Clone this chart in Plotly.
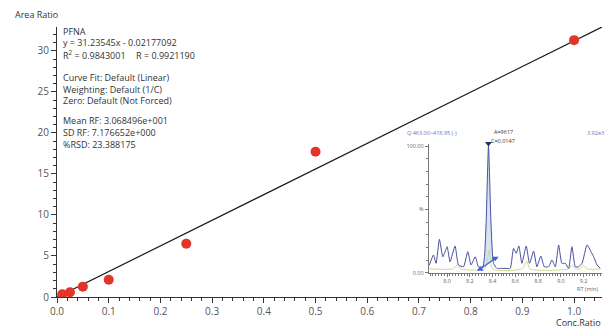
import plotly.graph_objects as go

# ---------------- calibration data ----------------
conc = [0.01, 0.025, 0.05, 0.1, 0.25, 0.5, 1.0]
area_ratio = [0.33, 0.57, 1.26, 2.1, 6.5, 17.7, 31.3]
slope = 31.23545
intercept = -0.02177092
fit_x = [0.0, 1.06]
x_tick_vals = [0.0, 0.1, 0.2, 0.3, 0.4, 0.5, 0.6, 0.7, 0.8, 0.9, 1.0]
y_tick_vals = [0, 5, 10, 15, 20, 25, 30]

info_lines = [
    ("PFNA", 31.5),
    ("y = 31.23545x - 0.02177092", 43),
    ("R<sup>2</sup> = 0.9843001", 55),
    ("Curve Fit: Default (Linear)", 77),
    ("Weighting: Default (1/C)", 89),
    ("Zero: Default (Not Forced)", 100.5),
    ("Mean RF: 3.068496e+001", 121),
    ("SD RF: 7.176652e+000", 132.5),
    ("%RSD: 23.388175", 144),
]
r_text = "R = 0.9921190"

# ---------------- chromatogram inset data ----------------
rt_blue = [7.844, 7.880, 7.903, 7.932, 7.962, 7.977, 8.000, 8.026, 8.070, 8.100,
           8.144, 8.182, 8.211, 8.247, 8.276, 8.314, 8.330, 8.344, 8.364, 8.385,
           8.408, 8.438, 8.467, 8.520, 8.555, 8.584, 8.608, 8.631, 8.658, 8.696,
           8.725, 8.761, 8.790, 8.825, 8.855, 8.893, 8.922, 8.952, 8.981, 9.010,
           9.040, 9.069, 9.098, 9.128, 9.157, 9.187, 9.231, 9.266, 9.289, 9.319,
           9.348]
pct_blue = [6.1, 14.0, 7.4, 26.3, 12.6, 15.3, 20.5, 8.7, 21.1, 6.1,
            4.7, 16.6, 6.1, 12.6, 4.7, 4.7, 14.0, 41.6, 100.0, 41.6,
            7.4, 3.4, 3.4, 3.4, 3.4, 19.2, 15.3, 21.1, 7.4, 21.1,
            7.4, 17.1, 4.7, 13.2, 4.7, 4.7, 10.0, 4.7, 21.9, 7.4,
            7.4, 3.4, 20.5, 4.7, 4.7, 7.4, 21.9, 16.6, 12.6, 6.1,
            3.4]
rt_green = [7.844, 8.05, 8.09, 8.12, 8.33, 8.37, 8.40, 8.66, 8.70, 8.73,
            9.07, 9.10, 9.13, 9.17, 9.20, 9.23, 9.348]
pct_green = [3.0, 3.0, 6.0, 3.0, 3.0, 18.0, 3.0, 3.0, 9.0, 3.0,
             3.0, 6.0, 3.0, 3.0, 6.0, 3.0, 3.0]
baseline_rt = [8.291, 8.423]
baseline_pct = [2.7, 11.4]
apex_rt = [8.364]
apex_pct = [102.0]
rt_tick_vals = [8.0, 8.2, 8.4, 8.6, 8.8, 9.0, 9.2]
pct_tick_vals = [0, 50, 100]
pct_tick_text = ["0.00", "%", "100.00"]

# ---------------- layout helpers (window pixel -> paper) ----------------
OFF = 8  # page body margin
W, H = 605, 321
L, R_, T, B = 49, 11, 19, 32
PW, PH = W - L - R_, H - T - B


def px(x):
    return (x - OFF - L) / PW


def py(y):
    return (H - B - (y - OFF)) / PH


FONT = "Open Sans"
TXT = "#333333"
TICK = "#555555"

fig = go.Figure()

# fit line
fit_y = [slope * v + intercept for v in fit_x]
fig.add_trace(go.Scatter(x=fit_x, y=fit_y, mode="lines",
                         line=dict(color="#1a1a1a", width=1.2),
                         hoverinfo="skip", showlegend=False,
                         xaxis="x", yaxis="y"))
# points
fig.add_trace(go.Scatter(x=conc, y=area_ratio, mode="markers",
                         marker=dict(color="#e1352b", size=10),
                         showlegend=False, xaxis="x", yaxis="y"))

# inset: peak fill polygon built from trace data
inner = [(r, p) for r, p in zip(rt_blue, pct_blue) if baseline_rt[0] < r < baseline_rt[1]]
fill_rt = [baseline_rt[0]] + [r for r, _ in inner] + [baseline_rt[1], baseline_rt[0]]
fill_pct = [baseline_pct[0]] + [p for _, p in inner] + [baseline_pct[1], baseline_pct[0]]
fig.add_trace(go.Scatter(x=fill_rt, y=fill_pct, mode="lines", fill="toself",
                         fillcolor="rgba(160,195,230,0.45)", line=dict(width=0),
                         hoverinfo="skip", showlegend=False, xaxis="x2", yaxis="y2"))
fig.add_trace(go.Scatter(x=rt_green, y=pct_green, mode="lines",
                         line=dict(color="#cfd98e", width=1, shape="spline", smoothing=0.6),
                         showlegend=False, xaxis="x2", yaxis="y2"))
fig.add_trace(go.Scatter(x=rt_blue, y=pct_blue, mode="lines",
                         line=dict(color="#4a4f9c", width=1, shape="spline", smoothing=0.5),
                         showlegend=False, xaxis="x2", yaxis="y2"))
fig.add_trace(go.Scatter(x=baseline_rt, y=baseline_pct, mode="lines+markers",
                         line=dict(color="#3d5fe0", width=1.3),
                         marker=dict(symbol=["triangle-up", "triangle-down"], size=6,
                                     color="#3d5fe0"),
                         showlegend=False, xaxis="x2", yaxis="y2"))
fig.add_trace(go.Scatter(x=apex_rt, y=apex_pct, mode="markers",
                         marker=dict(symbol="triangle-down", size=6, color="#1f2f6a"),
                         showlegend=False, xaxis="x2", yaxis="y2", cliponaxis=False))

axis_common = dict(showgrid=False, zeroline=False, showline=True,
                   linecolor="#333333", linewidth=1, ticks="outside",
                   tickcolor="#333333", ticklen=5, tickwidth=1,
                   tickfont=dict(family=FONT, size=10, color=TICK))

inset_axis = dict(showgrid=False, zeroline=False, showline=True,
                  linecolor="#777777", linewidth=1, ticks="outside",
                  tickcolor="#777777", ticklen=3, tickwidth=1,
                  tickfont=dict(family=FONT, size=5.5, color="#666666"))

annotations = []
for text, yy in info_lines:
    annotations.append(dict(text=text, x=px(61), y=py(yy), xref="paper", yref="paper",
                            xanchor="left", yanchor="middle", showarrow=False,
                            font=dict(family=FONT, size=9, color=TXT)))
annotations.append(dict(text=r_text, x=px(134), y=py(55), xref="paper", yref="paper",
                        xanchor="left", yanchor="middle", showarrow=False,
                        font=dict(family=FONT, size=9, color=TXT)))
annotations.append(dict(text="Area Ratio", x=px(13), y=py(14), xref="paper", yref="paper",
                        xanchor="left", yanchor="middle", showarrow=False,
                        font=dict(family=FONT, size=9, color=TXT)))
annotations.append(dict(text="Conc.Ratio", x=px(603), y=py(322), xref="paper", yref="paper",
                        xanchor="right", yanchor="middle", showarrow=False,
                        font=dict(family=FONT, size=9, color=TXT)))
small = [
    ("Q 463.00&gt;418.95 (-)", 405, 133, "left", "#6a72b8"),
    ("3.92e3", 585, 133, "left", "#6a72b8"),
    ("A=9617", 492, 132, "left", "#333333"),
    ("C=0.0147", 489, 140.5, "left", "#333333"),
    ("RT (min)", 600, 289, "right", "#666666"),
]
for text, xx, yy, anc, col in small:
    annotations.append(dict(text=text, x=px(xx), y=py(yy), xref="paper", yref="paper",
                            xanchor=anc, yanchor="middle", showarrow=False,
                            font=dict(family=FONT, size=5.5, color=col)))

fig.update_layout(
    width=W, height=H,
    margin=dict(l=L, r=R_, t=T, b=B, pad=0),
    paper_bgcolor="white", plot_bgcolor="rgba(0,0,0,0)",
    showlegend=False,
    xaxis=dict(range=[0, 1.054], tickvals=x_tick_vals,
               ticktext=[f"{v:.1f}" for v in x_tick_vals],
               minor=dict(dtick=0.02, ticklen=3, tickcolor="#333333", ticks="outside"),
               domain=[0, 1], anchor="y", **axis_common),
    yaxis=dict(range=[0, 32.9], tickvals=y_tick_vals,
               minor=dict(dtick=1, ticklen=3, tickcolor="#333333", ticks="outside"),
               domain=[0, 1], anchor="x", **axis_common),
    xaxis2=dict(range=[7.838, 9.36], tickvals=rt_tick_vals,
                ticktext=[f"{v:.1f}" for v in rt_tick_vals],
                minor=dict(dtick=0.025, ticklen=2, tickcolor="#777777", ticks="outside"),
                domain=[px(428.7), px(601.7)], anchor="y2", **inset_axis),
    yaxis2=dict(range=[0, 102], tickvals=pct_tick_vals, ticktext=pct_tick_text,
                minor=dict(dtick=10, ticklen=2, tickcolor="#777777", ticks="outside"),
                domain=[py(272.7), py(143.5)], anchor="x2", **inset_axis),
    annotations=annotations,
)

fig.write_html("out.html")
